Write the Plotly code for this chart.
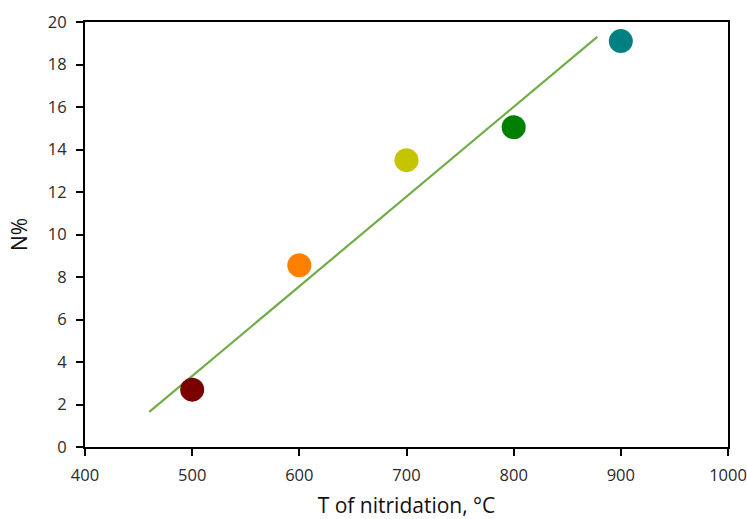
import plotly.graph_objects as go

temps = [500, 600, 700, 800, 900]
n_pct = [2.7, 8.55, 13.5, 15.05, 19.1]
colors = ["#7A0000", "#FF8000", "#C4C400", "#008000", "#008080"]
trend_x = [460, 878]
trend_y = [1.65, 19.3]
x_ticks = [400, 500, 600, 700, 800, 900, 1000]
y_ticks = [0, 2, 4, 6, 8, 10, 12, 14, 16, 18, 20]

fig = go.Figure()
fig.add_trace(go.Scatter(x=trend_x, y=trend_y, mode="lines",
                         line=dict(color="#70AD47", width=2.2), showlegend=False, hoverinfo="skip"))
fig.add_trace(go.Scatter(x=temps, y=n_pct, mode="markers",
                         marker=dict(color=colors, size=24, line=dict(width=0)), showlegend=False))

tf = dict(size=16.5, family="Open Sans, sans-serif", color="#2a2a2a")
fig.update_layout(
    width=747, height=519,
    margin=dict(l=85, r=19, t=22, b=72, autoexpand=False),
    paper_bgcolor="white", plot_bgcolor="white",
    font=dict(family="Open Sans, sans-serif", color="#222222"),
    xaxis=dict(range=[400, 1000], tickvals=x_ticks, showgrid=False, zeroline=False,
               showline=True, linecolor="black", linewidth=2, mirror=True,
               ticks="outside", ticklen=7, tickwidth=2, tickcolor="black",
               ticklabelstandoff=5, automargin=True,
               tickfont=tf,
               title=dict(text="T of nitridation, °C", font=dict(size=21, color="#111111"), standoff=19)),
    yaxis=dict(range=[0, 20], tickvals=y_ticks, showgrid=False, zeroline=False,
               showline=True, linecolor="black", linewidth=2, mirror=True,
               ticks="outside", ticklen=7, tickwidth=2, tickcolor="black",
               ticklabelstandoff=6, automargin=False,
               tickfont=tf,
               title=dict(text="N%", font=dict(size=21, color="#111111"), standoff=14)),
)
fig.write_html("out.html")
